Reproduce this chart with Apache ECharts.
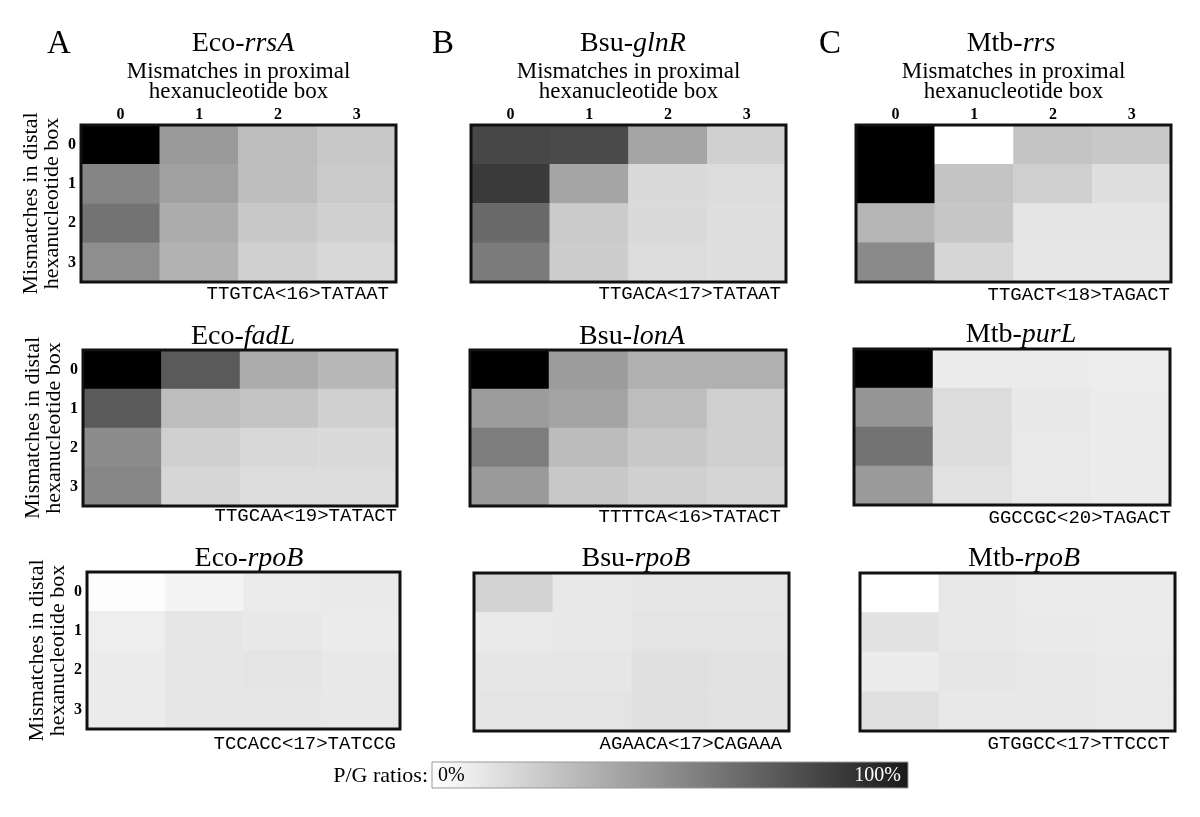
<!DOCTYPE html>
<html><head><meta charset="utf-8">
<script src="https://cdn.jsdelivr.net/npm/echarts@6/dist/echarts.min.js"></script>
<style>html,body{margin:0;padding:0;background:#fff}#c{width:1200px;height:817px}</style>
</head><body><div id="c"></div>
<script>
// ---- data ----
const proximalTicks = ['0', '1', '2', '3'];
const distalTicks = ['0', '1', '2', '3'];
const panelLetters = ['A', 'B', 'C'];
const organisms = ['Eco-', 'Bsu-', 'Mtb-', 'Eco-', 'Bsu-', 'Mtb-', 'Eco-', 'Bsu-', 'Mtb-'];
const genes = ['rrsA', 'glnR', 'rrs', 'fadL', 'lonA', 'purL', 'rpoB', 'rpoB', 'rpoB'];
const promoters = ['TTGTCA<16>TATAAT', 'TTGACA<17>TATAAT', 'TTGACT<18>TAGACT',
                   'TTGCAA<19>TATACT', 'TTTTCA<16>TATACT', 'GGCCGC<20>TAGACT',
                   'TCCACC<17>TATCCG', 'AGAACA<17>CAGAAA', 'GTGGCC<17>TTCCCT'];
// P/G ratio (%) ; rows = mismatches in distal box 0..3, columns = proximal box 0..3
const ecoRrsA = [[100, 39.6, 25.9, 21.6], [47.8, 37.3, 25.5, 20.8], [54.9, 32.5, 21.6, 18.4], [44.3, 30.2, 18.4, 15.3]];
const bsuGlnR = [[72.2, 71.0, 35.3, 18.4], [77.3, 34.9, 14.5, 13.7], [58.4, 20.4, 14.5, 12.9], [51.8, 19.6, 13.7, 12.5]];
const mtbRrs  = [[100, 0, 23.1, 21.6], [100, 23.1, 18.8, 12.5], [29.0, 22.4, 10.2, 10.2], [45.9, 16.1, 9.8, 9.8]];
const ecoFadL = [[100, 64.7, 32.5, 27.8], [64.7, 25.9, 23.1, 18.4], [45.1, 18.4, 15.3, 14.5], [47.1, 16.1, 13.7, 13.7]];
const bsuLonA = [[100, 38.8, 31.0, 31.0], [38.8, 36.1, 25.9, 18.8], [50.6, 26.3, 21.6, 18.4], [39.6, 21.6, 18.4, 16.5]];
const mtbPurL = [[100, 7.5, 7.5, 7.1], [41.6, 13.7, 9.0, 7.5], [54.9, 13.3, 8.6, 7.5], [39.6, 11.8, 8.6, 7.5]];
const ecoRpoB = [[0.8, 4.3, 7.8, 8.2], [6.7, 9.8, 9.0, 7.8], [7.5, 9.8, 10.6, 9.0], [7.5, 9.8, 9.8, 9.0]];
const bsuRpoB = [[17.3, 9.0, 9.8, 9.8], [8.2, 9.0, 10.6, 10.6], [9.8, 9.8, 12.2, 11.4], [10.6, 10.6, 12.2, 11.4]];
const mtbRpoB = [[0, 9.0, 7.8, 7.8], [11.4, 9.0, 8.2, 7.8], [7.5, 9.8, 9.0, 8.2], [12.2, 9.0, 9.0, 8.2]];
const allValues = [ecoRrsA, bsuGlnR, mtbRrs, ecoFadL, bsuLonA, mtbPurL, ecoRpoB, bsuRpoB, mtbRpoB];
const colorbarLabels = ['0%', '100%'];
const colorbarTitle = 'P/G ratios:';
const xAxisTitle = 'Mismatches in proximal\nhexanucleotide box';
const yAxisTitle = 'Mismatches in distal\nhexanucleotide box';

// ---- layout ----
const SERIF = "'Liberation Serif','Times New Roman',serif";
const MONO = "'Liberation Mono','Courier New',monospace";
const gridBoxes = [
  [81, 125, 315, 157], [471, 125, 315, 157], [856, 125, 315, 157],
  [83, 350, 314, 156], [470, 350, 316, 156], [854, 349, 316, 156],
  [87, 572, 313, 157], [474, 573, 315, 158], [860, 573, 315, 158]
];
const titleCenters = [[243, 44], [633, 44], [1011, 44], [243, 337], [632, 337], [1021, 335], [249, 559], [636, 559], [1024, 559]];
const seqPos = [[389, 294], [781, 294], [1170, 295], [397, 516], [781, 517], [1171, 518], [396, 744], [782, 744], [1170, 744]];
const letterPos = [[59, 44], [443, 44], [830, 44]];

const chart = echarts.init(document.getElementById('c'), null, {renderer: 'canvas'});
const grid = [], xAxis = [], yAxis = [], series = [], graphic = [];

for (let i = 0; i < 9; i++) {
  const row = Math.floor(i / 3), col = i % 3;
  const b = gridBoxes[i];
  grid.push({left: b[0], top: b[1], width: b[2], height: b[3], show: true,
    borderColor: '#111', borderWidth: 3, backgroundColor: 'transparent', z: 10});
  xAxis.push({
    type: 'category', gridIndex: i, data: proximalTicks, position: 'top',
    axisLine: {show: false}, axisTick: {show: false}, splitLine: {show: false},
    axisLabel: {show: row === 0, margin: 2, fontFamily: SERIF, fontWeight: 'bold', fontSize: 16, color: '#000'},
    name: row === 0 ? xAxisTitle : '', nameLocation: 'middle', nameGap: 23,
    nameTextStyle: {fontFamily: SERIF, fontSize: 23, color: '#000', lineHeight: 20}
  });
  yAxis.push({
    type: 'category', gridIndex: i, data: distalTicks, inverse: true,
    axisLine: {show: false}, axisTick: {show: false}, splitLine: {show: false},
    axisLabel: {show: col === 0, margin: 5, fontFamily: SERIF, fontWeight: 'bold', fontSize: 16, color: '#000'},
    name: col === 0 ? yAxisTitle : '', nameLocation: 'middle', nameGap: 18, nameRotate: 90,
    nameTextStyle: {fontFamily: SERIF, fontSize: 22, color: '#000', lineHeight: 21}
  });
  const data = [];
  allValues[i].forEach((r, yi) => r.forEach((v, xi) => data.push([xi, yi, v])));
  series.push({type: 'heatmap', xAxisIndex: i, yAxisIndex: i, data,
    itemStyle: {borderWidth: 0}, emphasis: {disabled: true}, progressive: 0});
  graphic.push({type: 'text', x: titleCenters[i][0], y: titleCenters[i][1], silent: true,
    style: {text: organisms[i] + '{i|' + genes[i] + '}', align: 'center', verticalAlign: 'middle',
      font: '28px ' + SERIF, fill: '#000',
      rich: {i: {fontStyle: 'italic', fontSize: 28, fontFamily: SERIF, fill: '#000'}}}});
  graphic.push({type: 'text', x: seqPos[i][0], y: seqPos[i][1], silent: true,
    style: {text: promoters[i], align: 'right', verticalAlign: 'middle', font: '19px ' + MONO, fill: '#000'}});
}
panelLetters.forEach((L, k) => graphic.push({type: 'text', x: letterPos[k][0], y: letterPos[k][1], silent: true,
  style: {text: L, align: 'center', verticalAlign: 'middle', font: '33px ' + SERIF, fill: '#000'}}));

// colour bar
graphic.push({type: 'rect', shape: {x: 432, y: 762, width: 476, height: 26}, silent: true,
  style: {fill: new echarts.graphic.LinearGradient(0, 0, 1, 0, [
    {offset: 0, color: '#ffffff'}, {offset: 1, color: '#1a1a1a'}]), stroke: '#999', lineWidth: 1}});
graphic.push({type: 'text', x: 428, y: 776, silent: true,
  style: {text: colorbarTitle, align: 'right', verticalAlign: 'middle', font: '22px ' + SERIF, fill: '#000'}});
graphic.push({type: 'text', x: 438, y: 776, silent: true,
  style: {text: colorbarLabels[0], align: 'left', verticalAlign: 'middle', font: '20px ' + SERIF, fill: '#000'}});
graphic.push({type: 'text', x: 901, y: 776, silent: true,
  style: {text: colorbarLabels[1], align: 'right', verticalAlign: 'middle', font: '20px ' + SERIF, fill: '#fff'}});

chart.setOption({
  animation: false,
  backgroundColor: '#fff',
  grid, xAxis, yAxis, series, graphic,
  visualMap: {type: 'continuous', show: false, min: 0, max: 100,
    inRange: {color: ['#ffffff', '#000000']}}
});
</script></body></html>
